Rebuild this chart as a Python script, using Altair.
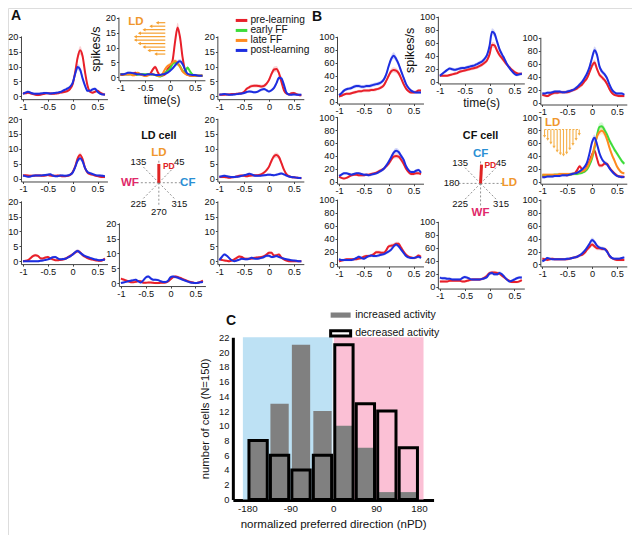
import altair as alt
import pandas as pd

# ---------------- data ----------------
TIME = [-1.0, -0.95, -0.9, -0.85, -0.8, -0.75, -0.7, -0.65, -0.6, -0.55,
        -0.5, -0.45, -0.4, -0.35, -0.3, -0.25, -0.2, -0.15, -0.1, -0.05,
        0.0, 0.05, 0.1, 0.15, 0.2, 0.25, 0.3, 0.35, 0.4, 0.45,
        0.5, 0.55, 0.6, 0.65]
SERIES = ["pre-learning", "early FF", "late FF", "post-learning"]
SERIES_COLORS = ["#e8202a", "#3ddc3a", "#ff8a1f", "#1d2ee0"]

# Panel A (LD cell), spikes/s
A_TL_PRE = [1.0,1.0,1.2,1.0,0.7,0.5,0.4,0.5,0.7,0.9, 1.0,0.9,0.8,0.9,1.0,1.2,1.3,1.5,1.8,2.5, 4.0,8.0,13.0,15.5,13.5,8.0,3.5,1.5,1.2,1.5, 1.8,1.2,0.8,0.5]
A_TL_POST = [0.8,1.2,1.5,1.2,0.9,0.8,0.8,0.9,1.0,1.1, 1.0,0.9,1.0,1.1,1.2,1.4,1.8,2.2,2.6,3.2, 4.5,7.5,9.8,9.0,6.0,3.5,1.8,1.8,2.3,2.5, 1.5,0.9,0.6,0.6]
A_TC_PRE = [0.8,0.8,1.0,1.0,1.1,1.3,1.5,1.3,1.0,0.8, 0.7,0.8,1.2,2.6,3.5,1.8,0.6,0.6,1.0,2.8, 3.7,5.7,12.0,16.8,13.4,6.8,2.4,0.8,0.6,0.5, 0.5,0.5,0.5,0.6]
A_TC_EARLY = [1.0,1.0,1.0,1.0,1.0,0.9,0.8,0.9,1.0,1.0, 1.0,1.0,1.0,0.9,0.8,0.4,0.3,0.8,1.5,2.2, 3.0,4.5,5.0,4.5,3.8,2.2,1.8,3.3,2.0,0.9, 0.5,0.5,0.5,0.5]
A_TC_LATE = [1.0,1.0,1.0,1.0,1.0,0.7,0.8,1.5,1.0,0.7, 0.4,0.6,1.0,1.0,0.8,0.5,0.4,1.2,2.8,3.8, 4.3,5.0,5.5,4.8,3.5,2.0,1.2,0.8,0.6,0.5, 0.5,0.5,0.5,0.5]
A_TC_POST = [1.0,1.0,1.2,1.5,1.5,1.4,1.2,1.0,1.0,0.9, 0.8,1.0,1.0,1.0,0.8,0.8,0.8,1.0,1.2,1.6, 2.2,3.0,4.0,5.0,5.4,4.5,2.6,1.2,0.9,0.8, 0.8,0.6,0.5,0.5]
A_TR_PRE = [0.5,0.5,0.5,0.6,0.6,0.7,0.7,0.8,0.9,1.0, 1.5,2.5,3.0,3.4,3.5,3.5,3.4,3.3,3.5,4.2, 5.5,7.5,9.0,9.2,7.8,4.8,2.0,0.9,0.6,1.0, 1.1,0.7,0.4,0.3]
A_TR_POST = [0.5,0.6,0.7,0.6,0.5,0.5,0.6,0.7,0.8,0.9, 1.1,1.4,1.6,1.5,1.3,1.4,1.8,2.2,2.4,2.0, 1.6,2.0,2.8,4.4,6.2,6.0,3.8,1.2,0.6,0.5, 0.6,0.5,0.5,0.5]
A_ML_PRE = [1.0,1.1,1.0,0.9,0.9,1.0,1.0,1.0,0.9,1.0, 1.2,1.0,0.9,0.9,1.0,0.9,0.8,0.8,0.9,1.2, 2.2,4.0,6.8,7.9,6.5,3.5,2.0,1.5,1.3,1.0, 0.8,0.6,0.5,0.5]
A_ML_POST = [1.0,0.8,0.6,0.7,0.9,1.0,1.0,1.0,1.1,1.2, 1.3,1.4,1.0,0.8,0.8,1.0,1.0,0.9,1.0,1.3, 2.0,3.8,6.0,6.8,5.8,3.5,2.2,1.8,1.5,1.2, 1.0,1.0,0.9,0.8]
A_MR_PRE = [0.5,0.5,0.5,0.4,0.3,0.4,0.5,0.7,0.9,1.0, 0.9,0.8,0.9,1.0,1.1,1.1,1.2,1.5,2.0,2.8, 4.0,6.0,7.5,7.9,7.2,5.2,3.0,1.5,0.8,0.5, 0.4,0.3,0.2,0.1]
A_MR_POST = [0.6,0.8,0.9,0.8,0.6,0.5,0.5,0.6,0.7,0.9, 1.1,1.3,1.6,1.4,1.0,0.9,0.9,1.0,1.1,1.2, 1.3,1.2,1.1,1.3,1.5,1.7,1.4,1.0,0.7,0.5, 0.4,0.3,0.2,0.2]
A_BL_PRE = [0.0,0.1,0.3,1.0,1.7,2.0,1.8,1.0,0.9,1.2, 1.4,0.9,0.6,0.3,0.3,0.4,0.5,0.8,1.3,1.8, 2.3,2.9,3.3,3.0,2.0,1.5,1.0,0.7,0.5,0.3, 0.2,0.1,0.3,0.9]
A_BL_POST = [0.0,0.0,0.0,0.0,0.0,0.0,0.0,0.1,0.2,0.4, 0.6,0.9,1.3,1.4,0.9,0.6,0.7,0.8,1.2,1.6, 2.2,3.0,3.4,2.8,2.2,1.7,1.4,1.1,0.8,0.6, 0.4,0.3,0.4,0.5]
A_BC_PRE = [1.5,1.2,0.9,0.6,0.3,0.3,0.4,0.7,0.6,0.1, 0.1,0.2,0.2,0.1,0.0,0.0,0.1,0.1,0.2,0.6, 1.3,2.0,2.2,2.0,1.7,1.3,1.0,0.6,0.4,0.2, 0.0,0.1,0.4,0.8]
A_BC_POST = [0.0,0.2,0.4,0.6,0.8,1.0,1.1,0.6,0.2,0.9, 1.9,2.2,1.6,1.1,1.1,1.0,0.6,0.4,0.4,0.8, 2.0,2.2,2.0,1.8,1.4,1.1,0.8,0.5,0.2,0.1, 0.0,0.1,0.3,0.4]
A_BR_PRE = [0.6,0.4,0.2,0.1,0.0,0.2,0.6,1.1,1.6,1.4, 0.9,0.8,0.8,0.9,1.1,1.2,1.3,1.4,1.7,2.2, 2.8,2.8,1.9,2.0,2.2,1.2,0.6,0.2,0.0,0.0, 0.0,0.0,0.0,0.0]
A_BR_POST = [0.3,1.4,2.2,1.8,1.0,0.3,0.0,0.2,0.5,0.8, 0.7,0.6,0.8,1.1,0.9,0.8,0.9,1.1,1.4,1.8, 1.8,1.4,1.5,1.7,1.4,1.1,0.8,0.6,0.5,0.3, 0.2,0.1,0.0,0.0]

# Panel B (CF cell), spikes/s
B_TL_PRE = [8,9,11,12,12,13,14,15,16,16, 17,17,17,18,18,19,20,22,25,32, 40,47,49,48,44,36,27,20,16,14, 14,15,17,17]
B_TL_POST = [10,13,17,19,20,21,23,24,24,23, 23,24,24,25,26,27,28,30,34,42, 55,66,71,66,58,47,37,27,21,17, 15,14,14,14]
B_TC_PRE = [9,9,9,9,10,11,12,13,15,16, 17,18,19,20,21,22,24,26,29,33, 42,57,56,48,41,36,31,26,22,18, 15,13,12,12]
B_TC_POST = [9,12,15,18,20,19,18,19,20,21, 21,22,23,24,25,27,29,31,35,41, 55,77,74,62,50,42,35,27,21,16, 12,10,11,12]
B_TR_PRE = [12,11,10,12,14,15,15,16,16,16, 16,17,19,20,22,25,28,33,38,47, 57,62,52,43,39,35,29,21,15,12, 11,10,10,10]
B_TR_POST = [14,14,15,15,16,17,17,17,16,16, 17,18,19,21,24,28,32,38,45,55, 69,81,74,56,48,44,38,28,20,16, 14,14,14,12]
B_ML_PRE = [8,6,5,6,8,10,11,11,10,10, 10,11,11,12,13,14,16,18,20,24, 28,34,39,40,39,34,28,20,15,12, 12,13,13,12]
B_ML_POST = [9,11,13,13,12,11,12,13,13,12, 11,11,10,11,12,13,15,17,20,25, 31,38,45,48,46,40,34,24,18,15, 15,17,18,14]
B_MR_PRE = [8,9,9,10,10,10,10,11,11,11, 10,11,12,13,18,24,19,16,24,32, 42,48,36,25,25,28,28,22,17,13, 10,8,8,7]
B_MR_EARLY = [10,10,10,10,10,11,11,11,11,11, 11,11,12,12,12,13,14,16,19,26, 36,52,72,85,86,80,73,64,57,50, 44,38,32,28]
B_MR_LATE = [11,11,11,11,11,11,11,12,12,12, 12,12,12,13,14,15,16,18,22,30, 39,55,70,77,79,75,66,53,42,33, 24,18,14,13]
B_MR_POST = [7,7,8,8,8,9,9,9,10,10, 10,11,12,13,14,16,19,23,30,44, 61,68,58,44,35,30,27,21,16,12, 9,8,7,8]
B_BL_PRE = [5,6,7,8,8,8,8,8,9,10, 12,13,13,14,16,19,19,18,18,22, 28,29,30,32,32,26,20,15,12,11, 10,11,14,12]
B_BL_POST = [8,7,7,7,7,7,8,10,12,10, 9,11,13,14,13,13,14,15,16,18, 20,23,28,31,28,23,18,13,11,10, 10,11,12,10]
B_BC_PRE = [8,8,8,8,9,9,9,9,9,8, 8,9,10,11,11,11,11,12,14,17, 21,22,22,21,20,17,14,11,9,7, 7,7,8,10]
B_BC_POST = [14,13,13,12,12,11,11,11,11,13, 15,14,12,11,11,11,11,12,13,15, 20,21,19,19,21,19,15,11,8,9, 11,13,14,14]
B_BR_PRE = [9,8,7,8,9,8,8,8,8,8, 8,9,10,11,12,14,15,18,23,27, 31,28,25,25,24,24,21,13,10,8, 7,7,7,7]
B_BR_POST = [5,7,10,9,8,8,8,8,8,8, 9,9,10,11,12,14,17,21,26,32, 38,35,29,26,25,24,20,14,10,9, 9,9,10,11]

PANEL_DATA = {
    "A_TL": {"pre-learning": A_TL_PRE, "post-learning": A_TL_POST},
    "A_TC": {"pre-learning": A_TC_PRE, "early FF": A_TC_EARLY, "late FF": A_TC_LATE, "post-learning": A_TC_POST},
    "A_TR": {"pre-learning": A_TR_PRE, "post-learning": A_TR_POST},
    "A_ML": {"pre-learning": A_ML_PRE, "post-learning": A_ML_POST},
    "A_MR": {"pre-learning": A_MR_PRE, "post-learning": A_MR_POST},
    "A_BL": {"pre-learning": A_BL_PRE, "post-learning": A_BL_POST},
    "A_BC": {"pre-learning": A_BC_PRE, "post-learning": A_BC_POST},
    "A_BR": {"pre-learning": A_BR_PRE, "post-learning": A_BR_POST},
    "B_TL": {"pre-learning": B_TL_PRE, "post-learning": B_TL_POST},
    "B_TC": {"pre-learning": B_TC_PRE, "post-learning": B_TC_POST},
    "B_TR": {"pre-learning": B_TR_PRE, "post-learning": B_TR_POST},
    "B_ML": {"pre-learning": B_ML_PRE, "post-learning": B_ML_POST},
    "B_MR": {"pre-learning": B_MR_PRE, "early FF": B_MR_EARLY, "late FF": B_MR_LATE, "post-learning": B_MR_POST},
    "B_BL": {"pre-learning": B_BL_PRE, "post-learning": B_BL_POST},
    "B_BC": {"pre-learning": B_BC_PRE, "post-learning": B_BC_POST},
    "B_BR": {"pre-learning": B_BR_PRE, "post-learning": B_BR_POST},
}

# polar diagrams
POLAR_ANGLES = [0, 45, 90, 135, 180, 225, 270, 315]
LD_CELL_LABELS = ["CF", "45", "LD", "135", "WF", "225", "270", "315"]
CF_CELL_LABELS = ["LD", "45", "CF", "135", "180", "225", "WF", "315"]
LD_CELL_PD = [90]
CF_CELL_PD = [87]

# force-field arrow glyphs
ARROW_A_ROW = [0, 1, 2, 3, 4, 5, 6, 7, 8, 9]
ARROW_A_TIP = [0.74, 0.53, 0.31, 0.16, 0.03, 0.03, 0.16, 0.31, 0.47, 0.69]
ARROW_B_COL = [0, 1, 2, 3, 4, 5, 6, 7, 8, 9, 10, 11]
ARROW_B_DEPTH = [0.25, 0.36, 0.5, 0.64, 0.79, 0.89, 0.93, 0.86, 0.71, 0.54, 0.36, 0.18]

# Panel C histogram
C_BIN_CENTER = [-157.5, -112.5, -67.5, -22.5, 22.5, 67.5, 112.5, 157.5]
C_INCREASED = [8, 13, 21, 12, 10, 7, 1, 1]
C_DECREASED = [8, 6, 4, 6, 21, 13, 12, 7]
KINDS = ["increased activity", "decreased activity"]
REGION_LO = [-180, 1.5]
REGION_HI = [-1.5, 180]

# ---------------- layout helpers ----------------
W, H = 624, 527
FONT = "Liberation Sans"
RED, ORANGE, BLUE_T, MAGENTA = "#e02424", "#f0962c", "#2a8fd4", "#e0296a"


def X(r):
    return (r + 3) * 0.965


def Y(r):
    return r * 0.98


XPU = 51.5
LAYOUT = {
    "A_TL": ("A", 12.5, 90), "A_TC": ("A", 113.5, 70.7), "A_TR": ("A", 216.0, 90),
    "A_ML": ("A", 12.5, 174), "A_MR": ("A", 216.0, 174),
    "A_BL": ("A", 12.5, 258.3), "A_BC": ("A", 114.0, 280.7), "A_BR": ("A", 216.0, 258.3),
    "B_TL": ("B", 340.0, 95.5), "B_TC": ("B", 444.5, 75), "B_TR": ("B", 550.7, 96.5),
    "B_ML": ("B", 340.0, 177.3), "B_MR": ("B", 550.7, 177.3),
    "B_BL": ("B", 340.0, 261.7), "B_BC": ("B", 444.5, 284.3), "B_BR": ("B", 550.7, 261.7),
}

COLOR_SCALE = alt.Scale(domain=SERIES, range=SERIES_COLORS)
BAND_COLOR = " : ".join(f"datum.s == '{s}' ? '{c}'" for s, c in zip(SERIES, SERIES_COLORS)) + " : 'gray'"
MINUS = "replace(format(datum.value, ''), '\u2212', '-')"

layers = []


def panel(key):
    kind, x1, y0 = LAYOUT[key]
    data = PANEL_DATA[key]
    rows = [{"t": t, "v": v, "s": s} for s in SERIES if s in data for t, v in zip(TIME, data[s])]
    df = pd.DataFrame(rows)
    if kind == "A":
        ydom, ppu, yt, er, ea = [-1, 20.3], 3.03, [0, 5, 10, 15, 20], 0.07, 0.35
    else:
        ydom, ppu, yt, er, ea = [-3, 101], 0.66, [0, 20, 40, 60, 80, 100], 0.05, 1.6
    xr = [X(x1 - 0.04 * XPU), X(x1 + 1.7 * XPU)]
    yr = [Y(y0 - ydom[0] * ppu), Y(y0 - ydom[1] * ppu)]
    xs = alt.Scale(domain=[-1.04, 0.7], range=xr, nice=False, zero=False)
    ys = alt.Scale(domain=ydom, range=yr, nice=False, zero=False)
    titles = key in ("A_TC", "B_TC")
    common = dict(grid=False, domainColor="#444", domainWidth=1, tickColor="#444", tickSize=2,
                  labelFont=FONT, labelFontSize=9.2, labelColor="#111", labelPadding=1,
                  labelOverlap=False, titleFont=FONT, titleFontWeight="normal", titleColor="#111")
    xaxis = alt.Axis(orient="bottom", offset=yr[0] - H, values=[-1, -0.5, 0, 0.5], labelExpr=MINUS,
                     labelFlush=False, title="time(s)" if titles else None, titleFontSize=12,
                     titlePadding=2, **common)
    yaxis = alt.Axis(orient="left", offset=-xr[0], values=yt,
                     title="spikes/s" if titles else None, titleFontSize=12.5, titlePadding=3, **common)
    band = alt.Chart(df).transform_calculate(
        lo=f"datum.v - ({er}*datum.v + {ea})", hi=f"datum.v + ({er}*datum.v + {ea})",
        bc=BAND_COLOR
    ).mark_area(opacity=0.2, interpolate="monotone").encode(
        x=alt.X("t:Q", scale=xs, axis=None),
        y=alt.Y("lo:Q", scale=ys, axis=None), y2="hi:Q",
        color=alt.Color("bc:N", scale=None))
    line = alt.Chart(df).mark_line(strokeWidth=2, interpolate="monotone").encode(
        x=alt.X("t:Q", scale=xs, axis=xaxis),
        y=alt.Y("v:Q", scale=ys, axis=yaxis),
        color=alt.Color("s:N", scale=COLOR_SCALE, legend=None))
    return [band, line]


ONE = pd.DataFrame({"k": [0]})


def note(text, rx, ry, size, color="#111", weight="normal", align="left"):
    return alt.Chart(ONE).mark_text(text=text, font=FONT, fontSize=size, color=color,
                                    fontWeight=weight, align=align, baseline="alphabetic").encode(
        x=alt.value(X(rx)), y=alt.value(Y(ry)))


SPECIAL = {"LD": ORANGE, "CF": BLUE_T, "WF": MAGENTA}


def polar(cx, cy, labels, pd_angle):
    df = pd.DataFrame({"ang": POLAR_ANGLES, "lab": labels})
    xs = alt.Scale(domain=[-2, 2], range=[X(cx - 48), X(cx + 48)], nice=False, zero=False)
    ys = alt.Scale(domain=[-2, 2], range=[Y(cy + 48), Y(cy - 48)], nice=False, zero=False)
    base = alt.Chart(df).transform_calculate(
        zx="0", zy="0",
        ex="cos(datum.ang*PI/180)", ey="sin(datum.ang*PI/180)",
        lx="1.25*cos(datum.ang*PI/180)", ly="1.25*sin(datum.ang*PI/180)")
    out = [base.mark_rule(strokeDash=[2, 2], color="#777", strokeWidth=0.8).encode(
        x=alt.X("zx:Q", scale=xs, axis=None), y=alt.Y("zy:Q", scale=ys, axis=None),
        x2="ex:Q", y2="ey:Q")]
    out.append(base.transform_filter("indexof(['LD','CF','WF'], datum.lab) < 0").mark_text(
        font=FONT, fontSize=9.5, color="#111", baseline="middle").encode(
        x=alt.X("lx:Q", scale=xs, axis=None), y=alt.Y("ly:Q", scale=ys, axis=None), text="lab:N"))
    for lab, col in SPECIAL.items():
        out.append(base.transform_filter(f"datum.lab == '{lab}'").mark_text(
            font=FONT, fontSize=11.5, fontWeight="bold", color=col, baseline="middle").encode(
            x=alt.X("lx:Q", scale=xs, axis=None), y=alt.Y("ly:Q", scale=ys, axis=None), text="lab:N"))
    pdf = pd.DataFrame({"ang": pd_angle})
    out.append(alt.Chart(pdf).transform_calculate(
        zx="0", zy="0", ex="0.8*cos(datum.ang*PI/180)", ey="0.8*sin(datum.ang*PI/180)"
    ).mark_rule(color=RED, strokeWidth=3).encode(
        x=alt.X("zx:Q", scale=xs, axis=None), y=alt.Y("zy:Q", scale=ys, axis=None),
        x2="ex:Q", y2="ey:Q"))
    return out


# ---------------- panel C ----------------
xs_c = alt.Scale(domain=[-200, 200], range=[X(230), X(438)], nice=False, zero=False)
ys_c = alt.Scale(domain=[0, 22], range=[Y(501.5), Y(336)], nice=False, zero=False)
for i, col in enumerate(["#bde1f4", "#fbc0d5"]):
    reg = pd.DataFrame({"lo": [REGION_LO[i]], "hi": [REGION_HI[i]]})
    layers.append(alt.Chart(reg).transform_calculate(b="0", t="22").mark_rect(color=col).encode(
        x=alt.X("lo:Q", scale=xs_c, axis=None), x2="hi:Q",
        y=alt.Y("b:Q", scale=ys_c, axis=None), y2="t:Q"))

df_c = pd.DataFrame({"center": C_BIN_CENTER * 2, "count": C_INCREASED + C_DECREASED,
                     "kind": [KINDS[0]] * 8 + [KINDS[1]] * 8})
LEGEND_C = alt.Legend(orient="none", legendX=X(336), legendY=Y(308), title=None,
                      symbolType="M-2.5,-0.65H2.5V0.65H-2.5Z", symbolSize=64, symbolStrokeWidth=2.5,
                      symbolOpacity=1,
                      labelFont=FONT, labelFontSize=10.5, labelColor="#111", rowPadding=3,
                      labelOffset=9)
cax = dict(grid=False, domainColor="black", domainWidth=3, ticks=False, labelFont=FONT,
           labelColor="#111", titleFont=FONT, titleFontWeight="normal", titleColor="#111",
           labelOverlap=False)
layers.append(alt.Chart(df_c).mark_bar(size=18.3).encode(
    x=alt.X("center:Q", scale=xs_c, axis=alt.Axis(
        orient="bottom", offset=Y(502) - H, values=[-180, -90, 0, 90, 180], labelExpr=MINUS,
        labelFontSize=9.8, labelPadding=4, labelFlush=False,
        title="normalized preferred direction (nPD)", titleFontSize=11.5, titlePadding=5, **cax)),
    y=alt.Y("count:Q", scale=ys_c, stack=None, axis=alt.Axis(
        orient="left", offset=-X(230), values=list(range(0, 23, 2)), labelFontSize=9.3,
        labelPadding=4, title="number of cells (N=150)", titleFontSize=11.3, titlePadding=8, **cax)),
    fill=alt.Fill("kind:N", scale=alt.Scale(domain=KINDS, range=["#808080", "transparent"]), legend=LEGEND_C),
    stroke=alt.Stroke("kind:N", scale=alt.Scale(domain=KINDS, range=["#808080", "#000000"]), legend=LEGEND_C),
    strokeWidth=alt.StrokeWidth("kind:N", scale=alt.Scale(domain=KINDS, range=[0, 3]), legend=None),
))

# ---------------- panels A and B ----------------
for key in PANEL_DATA:
    layers.extend(panel(key))

# legend of panel A (drawn as marks through the shared colour scale)
LEGEND_ROW = [0, 1, 2, 3]
dfl = pd.DataFrame({"s": SERIES, "row": LEGEND_ROW})
xl = alt.Scale(domain=[0, 1], range=[X(233), X(245)], nice=False, zero=False)
yl = alt.Scale(domain=[0, 3], range=[Y(12.7), Y(43.3)], nice=False, zero=False)
legbase = alt.Chart(dfl).transform_calculate(a="0", b="1", lx="1.27")
layers.append(legbase.mark_rule(strokeWidth=3).encode(
    x=alt.X("a:Q", scale=xl, axis=None), x2="b:Q", y=alt.Y("row:Q", scale=yl, axis=None),
    color=alt.Color("s:N", scale=COLOR_SCALE, legend=None)))
layers.append(legbase.mark_text(font=FONT, fontSize=10.2, color="#111", align="left", baseline="middle").encode(
    x=alt.X("lx:Q", scale=xl, axis=None), y=alt.Y("row:Q", scale=yl, axis=None), text="s:N"))

# polar diagrams
layers.extend(polar(153.3, 178.3, LD_CELL_LABELS, LD_CELL_PD))
layers.extend(polar(486.7, 179.0, CF_CELL_LABELS, CF_CELL_PD))

# arrow glyphs A (horizontal, pointing left)
dfa = pd.DataFrame({"row": ARROW_A_ROW, "tip": ARROW_A_TIP})
xa = alt.Scale(domain=[0, 1], range=[X(128), X(160)], nice=False, zero=False)
ya = alt.Scale(domain=[0, 9], range=[Y(15), Y(47)], nice=False, zero=False)
layers.append(alt.Chart(dfa).transform_calculate(base="1").mark_rule(color="#f5a030", strokeWidth=1.2).encode(
    x=alt.X("tip:Q", scale=xa, axis=None), x2="base:Q", y=alt.Y("row:Q", scale=ya, axis=None)))
layers.append(alt.Chart(dfa).mark_point(shape="triangle-left", filled=True, size=12, color="#f5a030", opacity=1).encode(
    x=alt.X("tip:Q", scale=xa, axis=None), y=alt.Y("row:Q", scale=ya, axis=None)))

# arrow glyphs B (vertical, pointing down)
dfb = pd.DataFrame({"col": ARROW_B_COL, "depth": ARROW_B_DEPTH})
xb = alt.Scale(domain=[0, 11], range=[X(553), X(589)], nice=False, zero=False)
yb = alt.Scale(domain=[0, 1], range=[Y(124), Y(152)], nice=False, zero=False)
bbase = alt.Chart(dfb).transform_calculate(top="0")
layers.append(bbase.mark_rule(color="#f5b04a", strokeWidth=1.1).encode(
    x=alt.X("col:Q", scale=xb, axis=None), y=alt.Y("top:Q", scale=yb, axis=None), y2="depth:Q"))
layers.append(alt.Chart(dfb).mark_point(shape="triangle-down", filled=True, size=10, color="#f5b04a", opacity=1).encode(
    x=alt.X("col:Q", scale=xb, axis=None), y=alt.Y("depth:Q", scale=yb, axis=None)))
layers.append(bbase.mark_rule(color="#f5b04a", strokeWidth=1, strokeDash=[2, 1.5]).encode(
    x=alt.X("min(col):Q", scale=xb, axis=None), x2="max(col):Q",
    y=alt.Y("min(top):Q", scale=yb, axis=None)))

# text annotations
layers += [
    note("A", 0, 12.5, 14, weight="bold"),
    note("B", 312, 13, 14, weight="bold"),
    note("C", 223, 323, 14, weight="bold"),
    note("LD cell", 153.3, 134, 10.8, weight="bold", align="center"),
    note("CF cell", 486.7, 134, 10.8, weight="bold", align="center"),
    note("PD", 157.5, 164, 8.5, color=RED, weight="bold"),
    note("PD", 490.7, 163.5, 8.5, color=RED, weight="bold"),
    note("LD", 121.5, 17.5, 11.5, color=ORANGE, weight="bold"),
    note("LD", 553.5, 120.5, 11.5, color=ORANGE, weight="bold"),
]

chart = alt.layer(*layers).resolve_scale(
    x="independent", y="independent"
).resolve_axis(
    x="independent", y="independent"
).properties(
    width=W, height=H, padding=0,
    autosize=alt.AutoSizeParams(type="none", contains="padding"),
).configure_view(strokeWidth=0).configure(font=FONT)

chart.save("out.html", embed_options={"renderer": "svg", "actions": False})
